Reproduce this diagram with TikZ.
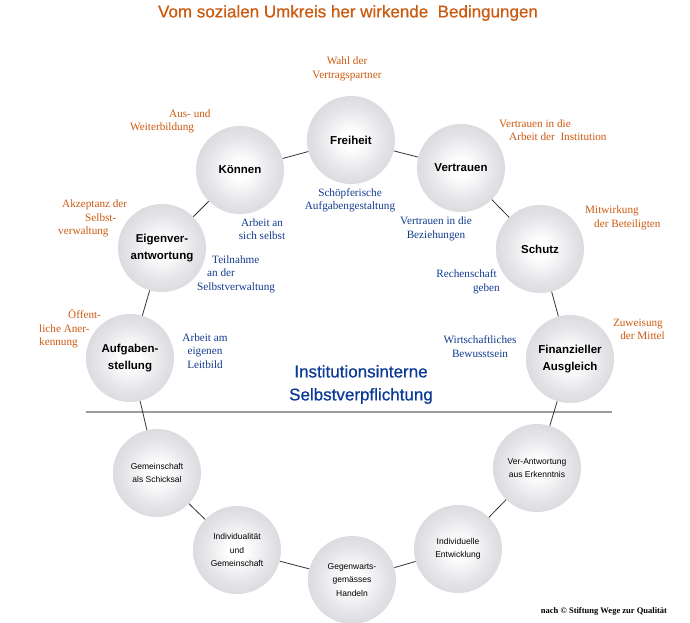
\documentclass[tikz,border=0pt]{standalone}
\usepackage{fontspec}
\setmainfont{Liberation Serif}
\setsansfont{Liberation Sans}
\newfontfamily\headfont[FakeBold=0.6]{Liberation Sans}
\definecolor{titleorange}{HTML}{CC5A10}
\definecolor{annorange}{HTML}{CC5A10}
\definecolor{annblue}{HTML}{123C8E}
\definecolor{centerblue}{HTML}{0B3A96}
\definecolor{sphin}{HTML}{E6E6EA}
\definecolor{sphmid}{HTML}{D2D2D6}
\definecolor{sphedge}{HTML}{C2C2C7}
\definecolor{sphrim}{HTML}{B4B4B9}
\definecolor{rulegray}{HTML}{9C9C9C}
\pgfdeclareradialshading{ballshade}{\pgfpoint{0bp}{0bp}}{color(0bp)=(white);color(5bp)=(white);color(18bp)=(sphin);color(32bp)=(sphmid);color(44bp)=(sphedge);color(50bp)=(sphrim)}
\begin{document}
\begin{tikzpicture}[x=1pt,y=-1pt,
  sphere/.style={circle, minimum size=88pt, inner sep=0pt, shading=ballshade, align=center},
  upper/.style={sphere, font=\sffamily\bfseries\fontsize{11.5}{17}\selectfont},
  lower/.style={sphere, font=\sffamily\fontsize{8.5}{13.5}\selectfont},
  ann/.style={inner sep=0pt, font=\rmfamily\fontsize{11.2}{13.5}\selectfont, text=annorange},
  annb/.style={ann, text=annblue},
  link/.style={draw=black!80, line width=0.8pt}]
\fill[white] (0,0) rectangle (690,622);
\useasboundingbox (0,0) rectangle (690,622);

% title
\node[font=\headfont\fontsize{17}{20}\selectfont, text=titleorange] (title) at (348,13) {Vom sozialen Umkreis her wirkende\ \ Bedingungen};

% separator rule
\coordinate (ruleL) at (86,412);
\coordinate (ruleR) at (612,412);
\draw[rulegray, line width=2pt] (ruleL) -- (ruleR);

% spheres
\node[upper] (freiheit) at (351,140) {Freiheit};
\node[upper] (vertrauen) at (461,168) {Vertrauen};
\node[upper] (schutz) at (540,249) {Schutz};
\node[upper] (finanz) at (570,359) {Finanzieller\\Ausgleich};
\node[lower] (verant) at (537,468) {Ver-Antwortung\\aus Erkenntnis};
\node[lower] (indent) at (458,549) {Individuelle\\Entwicklung};
\node[lower] (gegen) at (352,580) {Gegenwarts-\\gemässes\\Handeln};
\node[lower] (indgem) at (237,550) {Individualität\\und\\Gemeinschaft};
\node[lower] (gemsch) at (157,473) {Gemeinschaft\\als Schicksal};
\node[upper] (aufgabe) at (130,358) {Aufgaben-\\stellung};
\node[upper] (eigen) at (162,248) {Eigenver-\\antwortung};
\node[upper] (koennen) at (240,170) {Können};

% connectors
\draw[link] (koennen) -- (freiheit);
\draw[link] (freiheit) -- (vertrauen);
\draw[link] (vertrauen) -- (schutz);
\draw[link] (schutz) -- (finanz);
\draw[link] (finanz) -- (verant);
\draw[link] (verant) -- (indent);
\draw[link] (indent) -- (gegen);
\draw[link] (gegen) -- (indgem);
\draw[link] (indgem) -- (gemsch);
\draw[link] (gemsch) -- (aufgabe);
\draw[link] (aufgabe) -- (eigen);
\draw[link] (eigen) -- (koennen);

% outer (orange) annotations
\node[ann, align=center] (wahl) at (347,69) {Wahl der\\Vertragspartner};
\node[ann, align=left, anchor=west] (vinst) at (499,130) {Vertrauen in die\\\hspace*{10pt}Arbeit der\ \ Institution};
\node[ann, align=left, anchor=west] (mitw) at (585,218) {Mitwirkung\\\hspace*{9pt}der Beteiligten};
\node[ann, align=right, anchor=east] (zuw) at (665,329.5) {Zuweisung\hspace*{2pt}\\der Mittel};
\node[ann, align=left, anchor=west] (ausw) at (130,121.5) {\hspace*{39pt}Aus- und\\Weiterbildung};
\node[ann, align=left, anchor=west] (akz) at (58,218.5) {\hspace*{4pt}Akzeptanz der\\\hspace*{27pt}Selbst-\\verwaltung};
\node[ann, align=left, anchor=west] (oeff) at (39,329) {\hspace*{29pt}Öffent-\\liche Aner-\\kennung};

% inner (blue) annotations
\node[annb, align=center] (schoepf) at (350,200.5) {Schöpferische\\Aufgabengestaltung};
\node[annb, align=center] (vbez) at (436,229) {Vertrauen in die\\Beziehungen};
\node[annb, align=right, anchor=east] (rech) at (500,282) {Rechenschaft\hspace*{3pt}\\geben};
\node[annb, align=center] (wirt) at (480,346.5) {Wirtschaftliches\\Bewusstsein};
\node[annb, align=center] (arban) at (262,229) {Arbeit an\\sich selbst};
\node[annb, align=left, anchor=west] (teil) at (197,274) {\hspace*{15pt}Teilnahme\\\hspace*{10pt}an der\\Selbstverwaltung};
\node[annb, align=center] (arbam) at (205,351) {Arbeit am\\eigenen\\Leitbild};

% centre text
\node[font=\headfont\fontsize{17}{23}\selectfont, text=centerblue, align=center] (centre) at (361,384.5) {Institutionsinterne\\Selbstverpflichtung};

% credit
\node[font=\rmfamily\bfseries\fontsize{8.5}{10}\selectfont] (credit) at (604,611) {nach © Stiftung Wege zur Qualität};
\end{tikzpicture}
\end{document}
